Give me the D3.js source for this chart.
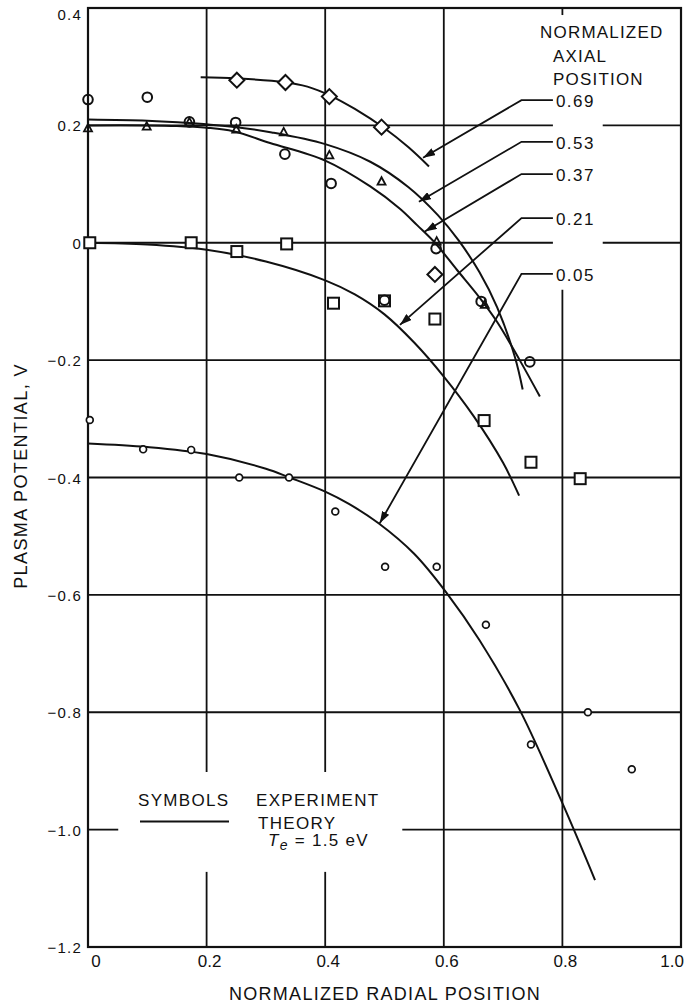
<!DOCTYPE html>
<html><head><meta charset="utf-8">
<script src="https://cdn.jsdelivr.net/npm/d3@7"></script>
<style>
body{margin:0;background:#fff}
svg{display:block}
text{font-family:"Liberation Sans",Arial,sans-serif;fill:#111}
</style>
</head><body>
<svg id="c" width="685" height="1006"></svg>
<script>
// ---- tick labels ----
const xTicks = [0, 0.2, 0.4, 0.6, 0.8, 1.0];
const xTickLabels = ["0", "0.2", "0.4", "0.6", "0.8", "1.0"];
const yTicks = [0.4, 0.2, 0, -0.2, -0.4, -0.6, -0.8, -1.0, -1.2];
const yTickLabels = ["0.4", "0.2", "0", "\u22120.2", "\u22120.4", "\u22120.6", "\u22120.8", "\u22121.0", "\u22121.2"];

// ---- experiment symbols (normalized radial position, plasma potential V) ----
const diamonds069 = [[0.251,0.277],[0.333,0.273],[0.407,0.249],[0.495,0.197],[0.585,-0.054]];
const triangles053 = [[0,0.195],[0.099,0.198],[0.171,0.205],[0.25,0.193],[0.33,0.188],[0.407,0.149],[0.495,0.104],[0.588,0.002],[0.669,-0.106]];
const circles037 = [[0,0.244],[0.10,0.248],[0.171,0.206],[0.249,0.205],[0.332,0.151],[0.41,0.101],[0.50,-0.098],[0.587,-0.01],[0.663,-0.10],[0.745,-0.203]];
const squares021 = [[0.003,0],[0.174,0],[0.251,-0.015],[0.335,-0.002],[0.414,-0.103],[0.50,-0.099],[0.585,-0.13],[0.668,-0.303],[0.747,-0.374],[0.83,-0.402]];
const smallCircles005 = [[0.003,-0.302],[0.093,-0.352],[0.174,-0.353],[0.255,-0.40],[0.339,-0.40],[0.417,-0.458],[0.501,-0.552],[0.588,-0.552],[0.671,-0.651],[0.747,-0.855],[0.843,-0.80],[0.917,-0.897]];

// ---- theory curves ----
const theory069 = [[0.19,0.282],[0.25,0.280],[0.33,0.274],[0.37,0.266],[0.41,0.250],[0.45,0.228],[0.50,0.195],[0.54,0.163],[0.575,0.130]];
const theory053 = [[0,0.21],[0.1,0.208],[0.17,0.204],[0.25,0.197],[0.31,0.188],[0.40,0.168],[0.476,0.138],[0.54,0.095],[0.59,0.047],[0.625,0.004],[0.66,-0.05],[0.69,-0.11],[0.72,-0.195],[0.733,-0.25]];
const theory037 = [[0,0.20],[0.1,0.20],[0.15,0.199],[0.2,0.196],[0.245,0.19],[0.307,0.170],[0.40,0.140],[0.476,0.096],[0.526,0.058],[0.555,0.030],[0.585,0.0],[0.622,-0.046],[0.66,-0.093],[0.69,-0.135],[0.728,-0.20],[0.762,-0.262]];
const theory021 = [[0,0],[0.1,-0.003],[0.2,-0.012],[0.3,-0.032],[0.4,-0.064],[0.45,-0.088],[0.5,-0.122],[0.55,-0.170],[0.6,-0.228],[0.65,-0.295],[0.7,-0.375],[0.727,-0.431]];
const theory005 = [[0,-0.342],[0.1,-0.348],[0.2,-0.36],[0.3,-0.385],[0.34,-0.40],[0.40,-0.424],[0.44,-0.445],[0.49,-0.478],[0.55,-0.53],[0.605,-0.597],[0.66,-0.677],[0.728,-0.796],[0.8,-0.955],[0.855,-1.086]];

// ---- annotation labels (axial position) ----
const axialLabels = ["0.69", "0.53", "0.37", "0.21", "0.05"];
const axialLabelV = [0.243, 0.172, 0.117, 0.042, -0.053];
const arrowTips = [[0.565,0.145],[0.558,0.070],[0.568,0.019],[0.526,-0.140],[0.492,-0.478]];

const svg = d3.select("#c");
const x = d3.scaleLinear().domain([0, 1]).range([88, 681]);
const y = d3.scaleLinear().domain([-1.2, 0.4]).range([947, 8]);
const ink = "#111";

svg.append("rect").attr("width", 685).attr("height", 1006).attr("fill", "#fff");

const defs = svg.append("defs");
defs.append("marker").attr("id", "ah").attr("viewBox", "0 0 12 8")
  .attr("refX", 12).attr("refY", 4).attr("markerWidth", 12).attr("markerHeight", 8)
  .attr("markerUnits", "userSpaceOnUse").attr("orient", "auto")
  .append("path").attr("d", "M0,0 L12,4 L0,8 Z").attr("fill", ink);

// ---- grid ----
const g = svg.append("g").attr("stroke", ink).attr("fill", "none");
const vSegs = [
  [0.2, [[-1.2, -1.072], [-0.902, 0.4]]],
  [0.4, [[-1.2, -1.072], [-0.902, 0.4]]],
  [0.6, [[-1.2, 0.4]]],
  [0.8, [[-1.2, -0.08], [0.388, 0.4]]]
];
vSegs.forEach(([xv, segs]) => segs.forEach(([a, b]) => {
  g.append("line").attr("x1", x(xv)).attr("x2", x(xv)).attr("y1", y(a)).attr("y2", y(b)).attr("stroke-width", 1.8);
}));
const hSegs = [
  [0.2, [[0, 0.784], [0.868, 1]]],
  [0, [[0, 0.784], [0.868, 1]]],
  [-0.2, [[0, 1]]],
  [-0.4, [[0, 1]]],
  [-0.6, [[0, 1]]],
  [-0.8, [[0, 1]]],
  [-1.0, [[0, 0.051], [0.53, 1]]]
];
hSegs.forEach(([yv, segs]) => segs.forEach(([a, b]) => {
  g.append("line").attr("x1", x(a)).attr("x2", x(b)).attr("y1", y(yv)).attr("y2", y(yv)).attr("stroke-width", 1.8);
}));
// frame
g.append("rect").attr("x", x(0)).attr("y", y(0.4)).attr("width", x(1) - x(0)).attr("height", y(-1.2) - y(0.4)).attr("stroke-width", 2.2);

// ---- tick labels ----
svg.append("g").selectAll("text").data(yTicks).join("text")
  .attr("x", 82).attr("y", (d) => y(d) + (d === 0.4 ? 12 : 6))
  .attr("text-anchor", "end").attr("font-size", 15).attr("letter-spacing", 1.2)
  .text((d, i) => yTickLabels[i]);
svg.append("g").selectAll("text").data(xTicks).join("text")
  .attr("x", (d) => d === 0 ? x(d) + 8 : (d === 1 ? 684 : x(d) + 3))
  .attr("y", 967)
  .attr("text-anchor", (d) => d === 1 ? "end" : "middle").attr("font-size", 17)
  .text((d, i) => xTickLabels[i]);

// axis titles
svg.append("text").attr("x", 385).attr("y", 1000).attr("text-anchor", "middle")
  .attr("font-size", 18).attr("letter-spacing", 1.3).text("NORMALIZED RADIAL POSITION");
svg.append("text").attr("transform", "translate(27,476) rotate(-90)").attr("text-anchor", "middle")
  .attr("font-size", 18).attr("letter-spacing", 1.4).text("PLASMA POTENTIAL, V");

// ---- theory curves ----
const line = d3.line().x((d) => x(d[0])).y((d) => y(d[1])).curve(d3.curveCatmullRom.alpha(0.5));
[theory069, theory053, theory037, theory021, theory005].forEach((c) => {
  svg.append("path").attr("d", line(c)).attr("fill", "none").attr("stroke", ink).attr("stroke-width", 2);
});

// ---- symbols ----
const sym = svg.append("g").attr("stroke", ink).attr("stroke-width", 2);
sym.selectAll(".sq").data(squares021).join("rect").attr("class", "sq")
  .attr("x", (d) => x(d[0]) - 5.5).attr("y", (d) => y(d[1]) - 5.5).attr("width", 11).attr("height", 11).attr("fill", "#fff");
sym.selectAll(".di").data(diamonds069).join("path").attr("class", "di")
  .attr("d", (d) => `M${x(d[0])},${y(d[1]) - 7.5}L${x(d[0]) + 7.5},${y(d[1])}L${x(d[0])},${y(d[1]) + 7.5}L${x(d[0]) - 7.5},${y(d[1])}Z`)
  .attr("fill", "#fff");
sym.selectAll(".ci").data(circles037).join("circle").attr("class", "ci")
  .attr("cx", (d) => x(d[0])).attr("cy", (d) => y(d[1])).attr("r", 4.8).attr("fill", "none");
sym.selectAll(".tr").data(triangles053).join("path").attr("class", "tr")
  .attr("d", (d) => `M${x(d[0])},${y(d[1]) - 4.5}L${x(d[0]) + 4},${y(d[1]) + 3}L${x(d[0]) - 4},${y(d[1]) + 3}Z`)
  .attr("fill", "none").attr("stroke-width", 1.8);
sym.selectAll(".sc").data(smallCircles005).join("circle").attr("class", "sc")
  .attr("cx", (d) => x(d[0])).attr("cy", (d) => y(d[1])).attr("r", 3.4).attr("fill", "#fff").attr("stroke-width", 1.7);

// ---- axial position annotation ----
const hdr = svg.append("g").attr("font-size", 17).attr("letter-spacing", 1.2);
hdr.append("text").attr("x", 540).attr("y", 38).text("NORMALIZED");
hdr.append("text").attr("x", 553).attr("y", 62).text("AXIAL");
hdr.append("text").attr("x", 553).attr("y", 85).text("POSITION");

const elbowX = 0.731, lineEndX = 0.784;
axialLabels.forEach((lab, i) => {
  const ly = axialLabelV[i];
  svg.append("path")
    .attr("d", `M${x(lineEndX)},${y(ly)}L${x(elbowX)},${y(ly)}L${x(arrowTips[i][0])},${y(arrowTips[i][1])}`)
    .attr("fill", "none").attr("stroke", ink).attr("stroke-width", 1.8).attr("marker-end", "url(#ah)");
  svg.append("text").attr("x", x(lineEndX) + 3).attr("y", y(ly) + 7)
    .attr("font-size", 17).attr("letter-spacing", 1.5).text(lab);
});

// ---- legend ----
const lg = svg.append("g").attr("font-size", 17).attr("letter-spacing", 1.3);
lg.append("text").attr("x", 138).attr("y", 806).text("SYMBOLS");
lg.append("text").attr("x", 256).attr("y", 806).text("EXPERIMENT");
lg.append("line").attr("x1", 140).attr("x2", 229).attr("y1", 821.5).attr("y2", 821.5).attr("stroke", ink).attr("stroke-width", 1.8);
lg.append("text").attr("x", 258).attr("y", 829).text("THEORY");
const te = lg.append("text").attr("x", 268).attr("y", 846);
te.append("tspan").attr("font-style", "italic").text("T");
te.append("tspan").attr("font-style", "italic").attr("font-size", 14).attr("dy", 4).text("e");
te.append("tspan").attr("dy", -4).text(" = 1.5  eV");
</script>
</body></html>
